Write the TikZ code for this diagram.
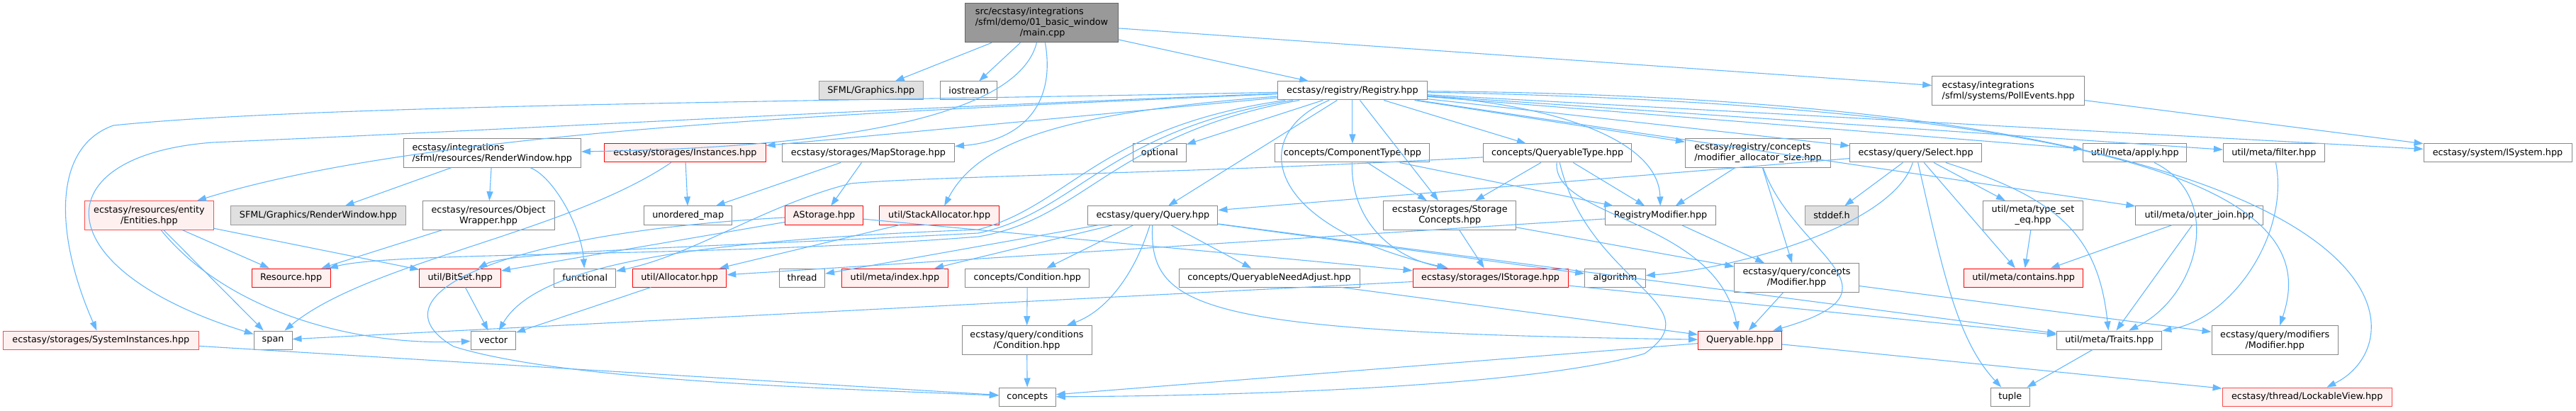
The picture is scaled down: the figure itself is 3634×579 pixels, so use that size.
\documentclass[tikz,border=0pt]{standalone}
\usepackage{fontspec}
\setmainfont{DejaVu Sans}
\usetikzlibrary{arrows.meta}
\definecolor{edgeblue}{HTML}{63B8FF}
\definecolor{hdrline}{HTML}{888888}
\definecolor{sysline}{HTML}{999999}
\definecolor{sysfill}{HTML}{E0E0E0}
\definecolor{redfill}{HTML}{FFF0F0}
\definecolor{paleredline}{HTML}{F84D4D}
\definecolor{rootline}{HTML}{666666}
\definecolor{rootfill}{HTML}{999999}

\begin{document}
\begin{tikzpicture}[x=1pt, y=1pt,
    hdr/.style={rectangle, draw=hdrline, fill=white, line width=1pt, inner sep=0pt,
                minimum height=26pt, font=\fontsize{12.8}{15}\selectfont},
    tall/.style={minimum height=40.6pt},
    syshdr/.style={hdr, draw=sysline, fill=sysfill},
    redhdr/.style={hdr, draw=red, fill=redfill},
    palered/.style={redhdr, draw=paleredline},
    roothdr/.style={hdr, draw=rootline, fill=rootfill, minimum height=55pt},
    dep/.style={draw=edgeblue, line width=1.1pt, -{Triangle[length=13pt, width=9pt]}},
]
    \useasboundingbox (0,0) rectangle (3634,579);

    % Root file
    \node[roothdr, minimum width=215.5pt, align=left] (main) at (1469.5,546.7)
        {src/ecstasy/integrations\\/sfml/demo/01\_basic\_window\\\hspace*{63pt}/main.cpp};

    % Level 1
    \node[syshdr, minimum width=147pt] (sfmlgfx) at (1228.8,451) {SFML/Graphics.hpp};
    \node[hdr, minimum width=80.2pt] (iostream) at (1366.6,451) {iostream};
    \node[hdr, minimum width=210.7pt] (registry) at (1907.9,451) {ecstasy/registry/Registry.hpp};
    \node[hdr, tall, minimum width=215pt, align=left] (pollevents) at (2833.2,451)
        {ecstasy/integrations\\/sfml/systems/PollEvents.hpp};

    % Level 2
    \node[hdr, tall, minimum width=250.6pt, align=left] (renderwin) at (694.3,363)
        {ecstasy/integrations\\/sfml/resources/RenderWindow.hpp};
    \node[redhdr, minimum width=227.4pt] (instances) at (966.5,363) {ecstasy/storages/Instances.hpp};
    \node[hdr, minimum width=243.1pt] (mapstorage) at (1225,363) {ecstasy/storages/MapStorage.hpp};
    \node[hdr, minimum width=74.7pt] (optional) at (1635.9,363) {optional};
    \node[hdr, minimum width=217.9pt] (componenttype) at (1907.9,363) {concepts/ComponentType.hpp};
    \node[hdr, minimum width=209.6pt] (queryabletype) at (2197.1,363) {concepts/QueryableType.hpp};
    \node[hdr, tall, minimum width=205.3pt, align=left] (modalloc) at (2480,363)
        {ecstasy/registry/concepts\\/modifier\_allocator\_size.hpp};
    \node[hdr, minimum width=185.5pt] (select) at (2702.6,363) {ecstasy/query/Select.hpp};
    \node[hdr, minimum width=146.5pt] (apply) at (3011.7,363) {util/meta/apply.hpp};
    \node[hdr, minimum width=142.8pt] (filter) at (3207.8,363) {util/meta/filter.hpp};
    \node[hdr, minimum width=209pt] (isystem) at (3523.5,363) {ecstasy/system/ISystem.hpp};

    % Level 3
    \node[palered, tall, minimum width=181.9pt, align=center] (entities) at (210.4,275)
        {ecstasy/resources/entity\\/Entities.hpp};
    \node[syshdr, minimum width=247.2pt] (sfmlrw) at (449,275) {SFML/Graphics/RenderWindow.hpp};
    \node[hdr, tall, minimum width=185.8pt, align=center] (objwrapper) at (689.1,275)
        {ecstasy/resources/Object\\Wrapper.hpp};
    \node[hdr, minimum width=124.1pt] (unorderedmap) at (970.7,275) {unordered\_map};
    \node[redhdr, minimum width=110.2pt] (astorage) at (1162.6,275) {AStorage.hpp};
    \node[redhdr, minimum width=168.8pt] (stackalloc) at (1325.1,275) {util/StackAllocator.hpp};
    \node[hdr, minimum width=183.1pt] (query) at (1626.4,275) {ecstasy/query/Query.hpp};
    \node[hdr, tall, minimum width=186.7pt, align=center] (storageconcepts) at (2045.3,275)
        {ecstasy/storages/Storage\\Concepts.hpp};
    \node[hdr, minimum width=156.4pt] (registrymodifier) at (2342.5,275) {RegistryModifier.hpp};
    \node[syshdr, minimum width=74.7pt] (stddef) at (2584,275) {stddef.h};
    \node[hdr, tall, minimum width=141.5pt, align=center] (typeseteq) at (2868,275)
        {util/meta/type\_set\\\_eq.hpp};
    \node[hdr, minimum width=179.3pt] (outerjoin) at (3102.5,275) {util/meta/outer\_join.hpp};

    % Level 4
    \node[redhdr, minimum width=111.2pt] (resource) at (410.6,187) {Resource.hpp};
    \node[redhdr, minimum width=114.6pt] (bitset) at (649.2,187) {util/BitSet.hpp};
    \node[hdr, minimum width=87pt] (functional) at (825.2,187) {functional};
    \node[redhdr, minimum width=132.4pt] (allocator) at (958.6,187) {util/Allocator.hpp};
    \node[hdr, minimum width=64pt] (thread) at (1131.6,187) {thread};
    \node[redhdr, minimum width=150.2pt] (index) at (1262.4,187) {util/meta/index.hpp};
    \node[hdr, minimum width=175.1pt] (conceptcondition) at (1449.3,187) {concepts/Condition.hpp};
    \node[hdr, minimum width=255pt] (needadjust) at (1790.5,187) {concepts/QueryableNeedAdjust.hpp};
    \node[redhdr, minimum width=219.1pt] (istorage) at (2102.6,187) {ecstasy/storages/IStorage.hpp};
    \node[hdr, minimum width=85.6pt] (algorithm) at (2278.5,187) {algorithm};
    \node[hdr, tall, minimum width=175.2pt, align=center] (qmodifier) at (2534.5,187)
        {ecstasy/query/concepts\\/Modifier.hpp};
    \node[redhdr, minimum width=168.4pt] (contains) at (2854.6,187) {util/meta/contains.hpp};

    % Level 5
    \node[palered, minimum width=275.3pt] (sysinstances) at (142.4,99) {ecstasy/storages/SystemInstances.hpp};
    \node[hdr, minimum width=53.8pt] (span) at (385.1,99) {span};
    \node[hdr, minimum width=63.3pt] (vector) at (695.9,99) {vector};
    \node[hdr, tall, minimum width=183pt, align=center] (condition) at (1448.5,99)
        {ecstasy/query/conditions\\/Condition.hpp};
    \node[redhdr, minimum width=117.9pt] (queryable) at (2454.5,99) {Queryable.hpp};
    \node[hdr, minimum width=148.2pt] (traits) at (2975.7,99) {util/meta/Traits.hpp};
    \node[hdr, tall, minimum width=178.4pt, align=center] (modifiers) at (3209.2,99)
        {ecstasy/query/modifiers\\/Modifier.hpp};

    % Level 6
    \node[hdr, minimum width=80pt] (concepts) at (1449.3,19) {concepts};
    \node[hdr, minimum width=55pt] (tuple) at (2835.8,19) {tuple};
    \node[palered, minimum width=239.3pt] (lockable) at (3254.7,19) {ecstasy/thread/LockableView.hpp};

    % main.cpp
    \foreach \t in {sfmlgfx,iostream,registry,pollevents}
        \draw[dep] (main) -- (\t);
    \draw[dep] (main) .. controls (1440,430) and (1250,372) .. (renderwin);
    \draw[dep] (main) .. controls (1490,430) and (1440,380) .. (mapstorage);
    \draw[dep] (pollevents) -- (isystem);

    % Registry.hpp
    \foreach \t in {instances,optional,query,componenttype,storageconcepts,queryabletype,
                    modalloc,select,apply,filter,outerjoin,isystem}
        \draw[dep] (registry) -- (\t);
    \draw[dep] (registry) .. controls (1200,436) and (450,432) .. (160,402)
        .. controls (70,370) and (80,240) .. (sysinstances);
    \draw[dep] (registry) .. controls (1200,424) and (700,395) .. (300,378)
        .. controls (60,360) and (60,200) .. (span);
    \draw[dep] (registry) .. controls (1200,420) and (600,395) .. (entities);
    \draw[dep] (registry) .. controls (1570,390) and (1530,270) .. (1380,245)
        .. controls (1000,215) and (560,225) .. (resource);
    \draw[dep] (registry) .. controls (1560,395) and (1520,280) .. (1380,250)
        .. controls (1000,230) and (720,225) .. (bitset);
    \draw[dep] (registry) .. controls (1550,400) and (1510,290) .. (1380,255)
        .. controls (1000,240) and (760,210) .. (vector);
    \draw[dep] (registry) .. controls (1500,420) and (1380,380) .. (stackalloc);
    \draw[dep] (registry) .. controls (1760,390) and (1780,260) .. (istorage);
    \draw[dep] (registry) .. controls (2200,430) and (2340,380) .. (registrymodifier);
    \draw[dep] (registry) .. controls (3200,425) and (3260,250) .. (modifiers);
    \draw[dep] (registry) .. controls (3420,440) and (3420,100) .. (lockable);

    % RenderWindow.hpp and friends
    \foreach \t in {sfmlrw,objwrapper}
        \draw[dep] (renderwin) -- (\t);
    \draw[dep] (renderwin) .. controls (780,330) and (820,260) .. (functional);
    \draw[dep] (objwrapper) -- (resource);
    \foreach \t in {resource,bitset,span}
        \draw[dep] (entities) -- (\t);
    \draw[dep] (entities) .. controls (320,140) and (500,90) .. (vector);
    \draw[dep] (sysinstances) -- (concepts);

    % storages
    \draw[dep] (instances) -- (unorderedmap);
    \draw[dep] (instances) .. controls (800,250) and (520,210) .. (span);
    \draw[dep] (mapstorage) -- (unorderedmap);
    \draw[dep] (mapstorage) -- (astorage);
    \draw[dep] (astorage) -- (bitset);
    \draw[dep] (astorage) -- (istorage);
    \draw[dep] (astorage) .. controls (700,250) and (520,160) .. (640,90)
        .. controls (800,40) and (1200,30) .. (concepts);
    \draw[dep] (stackalloc) -- (allocator);
    \draw[dep] (bitset) -- (vector);
    \draw[dep] (allocator) -- (vector);

    % Query.hpp
    \foreach \t in {index,conceptcondition,needadjust,algorithm,traits,thread}
        \draw[dep] (query) -- (\t);
    \draw[dep] (query) .. controls (1600,190) and (1560,140) .. (condition);
    \draw[dep] (query) .. controls (1620,140) and (1700,110) .. (queryable);
    \draw[dep] (conceptcondition) -- (condition);
    \draw[dep] (condition) -- (concepts);

    % concepts
    \foreach \t in {storageconcepts,registrymodifier}
        \draw[dep] (componenttype) -- (\t);
    \draw[dep] (componenttype) .. controls (1905,280) and (1950,220) .. (istorage);
    \foreach \t in {storageconcepts,registrymodifier}
        \draw[dep] (queryabletype) -- (\t);
    \draw[dep] (queryabletype) .. controls (1700,335) and (1300,330) .. (1200,320)
        .. controls (1080,290) and (980,220) .. (functional);
    \draw[dep] (queryabletype) .. controls (2190,270) and (2420,270) .. (queryable);
    \draw[dep] (queryabletype) .. controls (2240,180) and (2420,150) .. (2320,80)
        .. controls (2150,30) and (1700,20) .. (concepts);
    \draw[dep] (storageconcepts) -- (istorage);
    \draw[dep] (storageconcepts) -- (qmodifier);
    \draw[dep] (istorage) -- (span);
    \draw[dep] (istorage) -- (traits);
    \draw[dep] (registrymodifier) -- (qmodifier);
    \draw[dep] (registrymodifier) -- (allocator);
    \draw[dep] (modalloc) -- (registrymodifier);
    \draw[dep] (modalloc) -- (qmodifier);
    \draw[dep] (modalloc) .. controls (2530,220) and (2700,170) .. (queryable);
    \draw[dep] (needadjust) -- (queryable);
    \draw[dep] (qmodifier) -- (queryable);
    \draw[dep] (qmodifier) -- (modifiers);
    \draw[dep] (queryable) -- (lockable);
    \draw[dep] (queryable) -- (concepts);

    % Select.hpp and meta
    \foreach \t in {query,stddef,typeseteq,contains}
        \draw[dep] (select) -- (\t);
    \draw[dep] (select) .. controls (2670,260) and (2450,200) .. (algorithm);
    \draw[dep] (select) .. controls (2740,200) and (2760,100) .. (tuple);
    \draw[dep] (select) .. controls (2900,300) and (2960,250) .. (traits);
    \draw[dep] (typeseteq) -- (contains);
    \draw[dep] (outerjoin) -- (contains);
    \draw[dep] (outerjoin) -- (traits);
    \draw[dep] (apply) .. controls (3140,300) and (3100,160) .. (traits);
    \draw[dep] (filter) .. controls (3230,250) and (3150,130) .. (traits);
    \draw[dep] (traits) -- (tuple);
\end{tikzpicture}
\end{document}
